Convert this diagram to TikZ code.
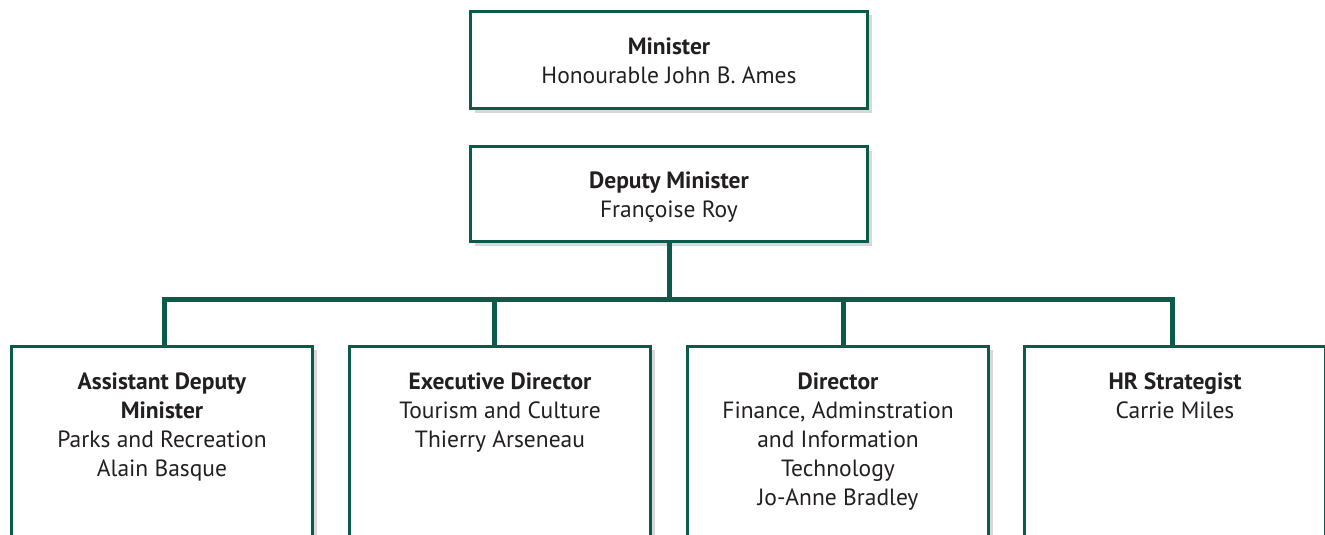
\documentclass[tikz,border=0pt]{standalone}
\usepackage{fontspec}
\setmainfont{PT Sans}
\usetikzlibrary{shadows}
\definecolor{boxgreen}{HTML}{0B5A4A}
\definecolor{txt}{HTML}{231F20}
\tikzset{
  orgbox/.style={draw=boxgreen, line width=3pt, fill=white, inner sep=0pt,
    drop shadow={shadow xshift=4pt, shadow yshift=-4pt, opacity=0.22, fill=black!70}},
  orgtext/.style={text=txt, align=center, inner sep=0pt, font=\fontsize{23.5}{29}\selectfont},
  link/.style={draw=boxgreen, line width=5pt}
}
\begin{document}
\begin{tikzpicture}[x=1pt,y=-1pt]
\useasboundingbox (0,0) rectangle (1325,535);
% connectors (behind)
\coordinate (bus) at (669,299.5);
\coordinate (d1) at (164,299.5);
\coordinate (d2) at (494,299.5);
\coordinate (d3) at (843,299.5);
\coordinate (d4) at (1172,299.5);
\node[orgbox, minimum width=397pt, minimum height=97pt] (min) at (669,60) {};
\node[orgbox, minimum width=397pt, minimum height=95pt] (dep) at (669,194) {};
\draw[link] (dep.south) -- (bus);
\draw[link, line cap=rect] (d1) -- (d4);
\node[orgbox, minimum width=301pt, minimum height=300pt, anchor=north] (b1) at (162,344.5) {};
\node[orgbox, minimum width=301pt, minimum height=300pt, anchor=north] (b2) at (500,344.5) {};
\node[orgbox, minimum width=301pt, minimum height=300pt, anchor=north] (b3) at (838,344.5) {};
\node[orgbox, minimum width=301pt, minimum height=300pt, anchor=north] (b4) at (1175,344.5) {};
\draw[link] (d1) -- (d1 |- b1.north);
\draw[link] (d2) -- (d2 |- b2.north);
\draw[link] (d3) -- (d3 |- b3.north);
\draw[link] (d4) -- (d4 |- b4.north);
% texts
\node[orgtext] (tmin) at (669,61) {\textbf{Minister}\\Honourable John B. Ames};
\node[orgtext] (tdep) at (669,197) {\textbf{Deputy Minister}\\Françoise Roy};
\node[orgtext, anchor=north] (t1) at (162,372.5) {\textbf{Assistant Deputy}\\\textbf{Minister}\\Parks and Recreation\\Alain Basque};
\node[orgtext, anchor=north] (t2) at (500,372.5) {\textbf{Executive Director}\\Tourism and Culture\\Thierry Arseneau};
\node[orgtext, anchor=north] (t3) at (838,372.5) {\textbf{Director}\\Finance, Adminstration\\and Information\\Technology\\Jo-Anne Bradley};
\node[orgtext, anchor=north] (t4) at (1175,372.5) {\textbf{HR Strategist}\\Carrie Miles};
\end{tikzpicture}
\end{document}
